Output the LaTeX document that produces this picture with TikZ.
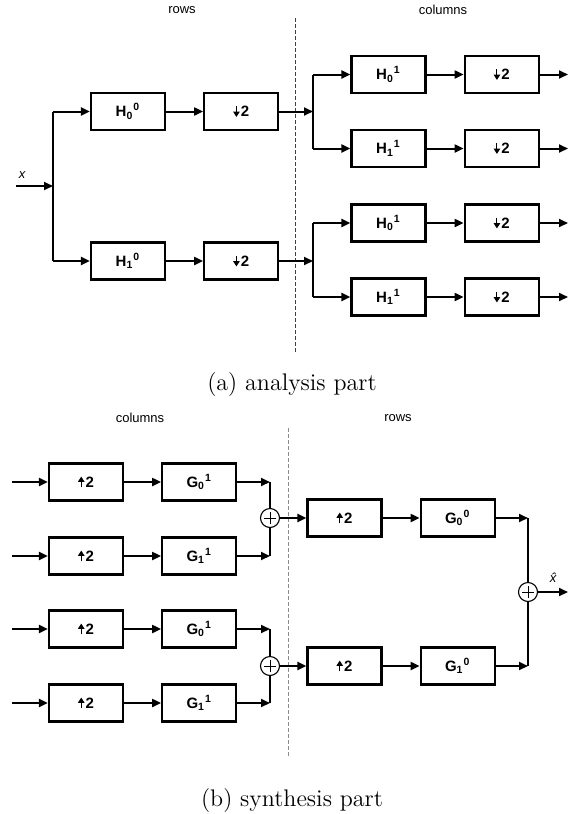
\documentclass[tikz,border=0pt]{standalone}
\usepackage{fontspec}
\newfontfamily\diagfont{Liberation Sans}
\usepackage{tikz}
\usetikzlibrary{arrows.meta, positioning, calc}

% small filled arrows for the sampling boxes
\newcommand{\dnarrow}{\tikz[baseline=0pt]\draw[-{Triangle[length=2.6pt, width=3.2pt]}, line width=0.5pt] (0,5.4pt) -- (0,0);\hspace{0.6pt}}
\newcommand{\uparr}{\tikz[baseline=0pt]\draw[-{Triangle[length=2.6pt, width=3.2pt]}, line width=0.5pt] (0,0) -- (0,5.4pt);\hspace{0.6pt}}

\begin{document}
\begin{tikzpicture}[
	x=0.5pt, y=-0.5pt,
	node distance=18.5pt,
	box/.style={rectangle, draw=black, line width=1.1pt, minimum width=37pt, minimum height=18.5pt, inner sep=0pt, align=center, font=\diagfont\fontsize{7.5}{8}\selectfont\bfseries},
	arrow/.style={-{Triangle[length=4.5pt, width=4pt]}, line width=1pt},
	vline/.style={line width=0.55pt},
	sum/.style={circle, draw=black, fill=white, line width=0.55pt, minimum size=9.5pt, inner sep=0pt,
		path picture={\draw[line width=0.5pt] ($(path picture bounding box.center)+(-3pt,0)$) -- ($(path picture bounding box.center)+(3pt,0)$)
			($(path picture bounding box.center)+(0,-3pt)$) -- ($(path picture bounding box.center)+(0,3pt)$);}},
	lbl/.style={font=\diagfont\fontsize{6.5}{7}\selectfont},
	sep/.style={line width=0.5pt, dash pattern=on 2pt off 1pt},
	captext/.style={font=\large}
	]
	\useasboundingbox (0,0) rectangle (569,814);
	\coordinate (rim) at (568,0);
	\coordinate (lrim) at (12,0);
	
	% analysis part
	\node[lbl] (rowsA) at (182,10) {rows};
	\node[lbl] (colsA) at (443,10) {columns};
	\draw[sep, black!75] (295,18) -- (295,352);
	
	\coordinate (in) at (16,186);
	\coordinate (split0) at (53,186);
	\node[lbl] (xin) at (22,175) {\itshape x};
	\node[box] (h00) at (128,111.5) {H\textsubscript{0}\textsuperscript{0}};
	\node[box, right=of h00] (dn00) {\dnarrow 2};
	\node[box] (h10) at (128,261) {H\textsubscript{1}\textsuperscript{0}};
	\node[box, right=of h10] (dn10) {\dnarrow 2};
	
	\coordinate (split1) at (313,111.5);
	\coordinate (split2) at (313,261);
	\node[box] (h01a) at (388.5,74.5) {H\textsubscript{0}\textsuperscript{1}};
	\node[box, right=of h01a] (dn01a) {\dnarrow 2};
	\node[box] (h11a) at (388.5,148.5) {H\textsubscript{1}\textsuperscript{1}};
	\node[box, right=of h11a] (dn11a) {\dnarrow 2};
	\node[box] (h01b) at (388.5,223) {H\textsubscript{0}\textsuperscript{1}};
	\node[box, right=of h01b] (dn01b) {\dnarrow 2};
	\node[box] (h11b) at (388.5,297) {H\textsubscript{1}\textsuperscript{1}};
	\node[box, right=of h11b] (dn11b) {\dnarrow 2};
	
	\draw[arrow] (in) -- (split0);
	\draw[vline] (split0 |- h00) -- (split0 |- h10);
	\draw[arrow] (split0 |- h00) -- (h00);
	\draw[arrow] (split0 |- h10) -- (h10);
	\draw[arrow] (h00) -- (dn00);
	\draw[arrow] (h10) -- (dn10);
	\draw[arrow] (dn00) -- (split1);
	\draw[arrow] (dn10) -- (split2);
	
	\draw[vline] (split1 |- h01a) -- (split1 |- h11a);
	\draw[vline] (split2 |- h01b) -- (split2 |- h11b);
	\draw[arrow] (split1 |- h01a) -- (h01a);
	\draw[arrow] (split1 |- h11a) -- (h11a);
	\draw[arrow] (split2 |- h01b) -- (h01b);
	\draw[arrow] (split2 |- h11b) -- (h11b);
	\draw[arrow] (h01a) -- (dn01a);
	\draw[arrow] (h11a) -- (dn11a);
	\draw[arrow] (h01b) -- (dn01b);
	\draw[arrow] (h11b) -- (dn11b);
	\draw[arrow] (dn01a) -- (rim |- dn01a);
	\draw[arrow] (dn11a) -- (rim |- dn11a);
	\draw[arrow] (dn01b) -- (rim |- dn01b);
	\draw[arrow] (dn11b) -- (rim |- dn11b);
	
	\node[captext] (capA) at (292,385) {(a) analysis part};
	
	% synthesis part
	\node[lbl] (colsB) at (140,418) {columns};
	\node[lbl] (rowsB) at (398,418) {rows};
	\draw[sep, black!45] (288,428) -- (288,757);
	
	\node[box] (up1a) at (86,482) {\uparr 2};
	\node[box, right=of up1a] (g01a) {G\textsubscript{0}\textsuperscript{1}};
	\node[box] (up1b) at (86,556) {\uparr 2};
	\node[box, right=of up1b] (g11a) {G\textsubscript{1}\textsuperscript{1}};
	\node[box] (up1c) at (86,629) {\uparr 2};
	\node[box, right=of up1c] (g01b) {G\textsubscript{0}\textsuperscript{1}};
	\node[box] (up1d) at (86,703) {\uparr 2};
	\node[box, right=of up1d] (g11b) {G\textsubscript{1}\textsuperscript{1}};
	\node[sum] (sum1) at (270,518) {};
	\node[sum] (sum2) at (270,666) {};
	
	\draw[arrow] (lrim |- up1a) -- (up1a);
	\draw[arrow] (lrim |- up1b) -- (up1b);
	\draw[arrow] (lrim |- up1c) -- (up1c);
	\draw[arrow] (lrim |- up1d) -- (up1d);
	\draw[arrow] (up1a) -- (g01a);
	\draw[arrow] (up1b) -- (g11a);
	\draw[arrow] (up1c) -- (g01b);
	\draw[arrow] (up1d) -- (g11b);
	\draw[arrow] (g01a) -- (sum1 |- g01a);
	\draw[arrow] (g11a) -- (sum1 |- g11a);
	\draw[arrow] (g01b) -- (sum2 |- g01b);
	\draw[arrow] (g11b) -- (sum2 |- g11b);
	\draw[vline] (sum1.north) -- (sum1 |- g01a);
	\draw[vline] (sum1.south) -- (sum1 |- g11a);
	\draw[vline] (sum2.north) -- (sum2 |- g01b);
	\draw[vline] (sum2.south) -- (sum2 |- g11b);
	
	\node[box] (up0a) at (344.5,518) {\uparr 2};
	\node[box, right=of up0a] (g00) {G\textsubscript{0}\textsuperscript{0}};
	\node[box] (up0b) at (344.5,666) {\uparr 2};
	\node[box, right=of up0b] (g10) {G\textsubscript{1}\textsuperscript{0}};
	\node[sum] (sum0) at (528,592) {};
	\node[lbl] (xhat) at (553,578) {\itshape\^{x}};
	
	\draw[arrow] (sum1) -- (up0a);
	\draw[arrow] (sum2) -- (up0b);
	\draw[arrow] (up0a) -- (g00);
	\draw[arrow] (up0b) -- (g10);
	\draw[arrow] (g00) -- (sum0 |- g00);
	\draw[arrow] (g10) -- (sum0 |- g10);
	\draw[vline] (sum0.north) -- (sum0 |- g00);
	\draw[vline] (sum0.south) -- (sum0 |- g10);
	\draw[arrow] (sum0) -- (rim |- sum0);
	
	\node[captext] (capB) at (292,800) {(b) synthesis part};
\end{tikzpicture}
\end{document}
